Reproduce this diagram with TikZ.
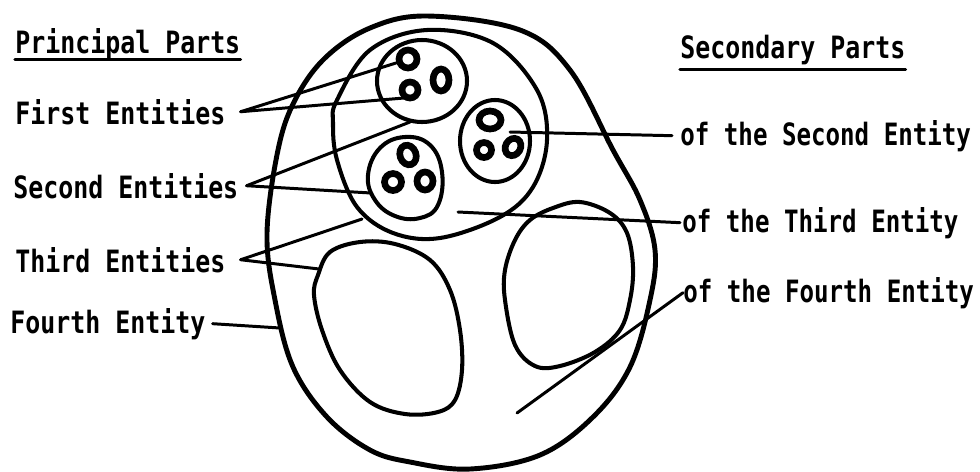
\documentclass[tikz,border=0pt]{standalone}
\usepackage{fontspec}
\newfontfamily\letterfont[FakeStretch=0.81]{DejaVu Sans Mono}
\newfontfamily\narrowletterfont[FakeStretch=0.785]{DejaVu Sans Mono}
\usetikzlibrary{positioning}
\tikzset{
    % Outline styles
    wall/.style={line width=2.8pt, line join=round},
    membrane/.style={line width=2.3pt},
    nucleus/.style={line width=3.8pt},
    % Leader styles
    leader/.style={line width=1.7pt, line cap=round},
    underline/.style={line width=1.8pt, line cap=round},
    % Text styles
    lettering/.style={font=\letterfont\bfseries\fontsize{17.5}{19}\selectfont,
                      inner sep=0pt, anchor=base west},
    narrow lettering/.style={lettering,
                      font=\narrowletterfont\bfseries\fontsize{17.5}{19}\selectfont},
}

\begin{document}
\begin{tikzpicture}[x=0.02cm, y=-0.02cm]
    \useasboundingbox (0,0) rectangle (980,471);

    % Fourth entity
    \draw[wall] plot[smooth cycle, tension=0.6] coordinates {
        (427,16) (520,30) (570,70) (613,150) (640,200) (655,250) (650,300)
        (630,367) (593,417) (540,455) (470,469) (410,462) (370,450) (327,417)
        (293,367) (275,300) (267,233) (278,150) (295,100) (325,58) (370,28)};

    % Third entities
    \draw[membrane] plot[smooth cycle, tension=0.6] coordinates {
        (337,100) (370,50) (427,30) (493,43) (537,90) (547,140) (533,187)
        (500,217) (440,238) (393,233) (357,207) (337,160) (333,123)};
    \draw[membrane] plot[smooth cycle, tension=0.6] coordinates {
        (318,275) (330,252) (360,242) (395,244) (430,260) (450,290) (460,330)
        (462,370) (455,400) (438,412) (405,414) (370,402) (340,370) (322,330)
        (314,295)};
    \draw[membrane] plot[smooth cycle, tension=0.6] coordinates {
        (553,208) (580,202) (610,213) (627,233) (633,267) (630,300) (620,330)
        (595,352) (560,366) (535,366) (515,345) (505,300) (505,270) (515,240)
        (530,220)};

    % Second entities
    \draw[membrane] (422,81) ellipse [x radius=45, y radius=41];
    \draw[membrane] (495,141) ellipse [x radius=35, y radius=41];
    \draw[membrane] plot[smooth cycle, tension=0.7] coordinates {
        (405,137) (430,145) (442,172) (438,205) (420,218) (395,216) (375,200)
        (368,175) (380,148)};

    % First entities
    \draw[nucleus] (408,59) ellipse [x radius=9, y radius=9];
    \draw[nucleus] (410,90) ellipse [x radius=8, y radius=8];
    \draw[nucleus] (441,80) ellipse [x radius=8, y radius=11];
    \draw[nucleus] (490,120) ellipse [x radius=11, y radius=9];
    \draw[nucleus] (484,150) ellipse [x radius=7.5, y radius=7.5];
    \draw[nucleus, rotate around={-30:(513,147)}] (513,147) ellipse [x radius=7.5, y radius=9];
    \draw[nucleus, rotate around={20:(408,155)}] (408,155) ellipse [x radius=8, y radius=10];
    \draw[nucleus] (393,182) ellipse [x radius=8.5, y radius=8.5];
    \draw[nucleus] (425,181) ellipse [x radius=8, y radius=9];

    % Targets of the leaders
    \coordinate (first a) at (396,63);
    \coordinate (first b) at (404,98);
    \coordinate (second a) at (410,122);
    \coordinate (second b) at (371,193);
    \coordinate (third a) at (362,219);
    \coordinate (third b) at (319,269);
    \coordinate (fourth a) at (280,328);
    \coordinate (second part) at (510,132);
    \coordinate (third part) at (458,212);
    \coordinate (fourth part) at (517,413);

    % Principal parts
    \node[lettering] (principal) at (15,53) {Principal Parts};
    \draw[underline] (principal.south west) -- (principal.south east);
    \node[lettering] (first) at (15,124) {First Entities};
    \node[lettering] (second) at (13,198) {Second Entities};
    \node[lettering] (third) at (15,272) {Third Entities};
    \node[lettering] (fourth) at (10,333) {Fourth Entity};

    \draw[leader] ([xshift=0.3cm]first.east) -- (first a);
    \draw[leader] ([xshift=0.3cm]first.east) -- (first b);
    \draw[leader] ([xshift=0.16cm]second.east) -- (second a);
    \draw[leader] ([xshift=0.16cm]second.east) -- (second b);
    \draw[leader] ([xshift=0.3cm]third.east) -- (third a);
    \draw[leader] ([xshift=0.3cm]third.east) -- (third b);
    \draw[leader] ([xshift=0.14cm]fourth.east) -- (fourth a);

    % Secondary parts
    \node[lettering] (secondary) at (680,58) {Secondary Parts};
    \draw[underline] ([yshift=-0.1cm]secondary.south west) -- ([yshift=-0.1cm]secondary.south east);
    \node[narrow lettering] (of second) at (680,145) {of the Second Entity};
    \node[narrow lettering] (of third) at (682,232) {of the Third Entity};
    \node[narrow lettering] (of fourth) at (683,302) {of the Fourth Entity};

    \draw[leader] (second part) -- ([xshift=-0.16cm]of second.west);
    \draw[leader] (third part) -- ([xshift=-0.04cm]of third.west);
    \draw[leader] (fourth part) -- (of fourth.west);
\end{tikzpicture}
\end{document}
